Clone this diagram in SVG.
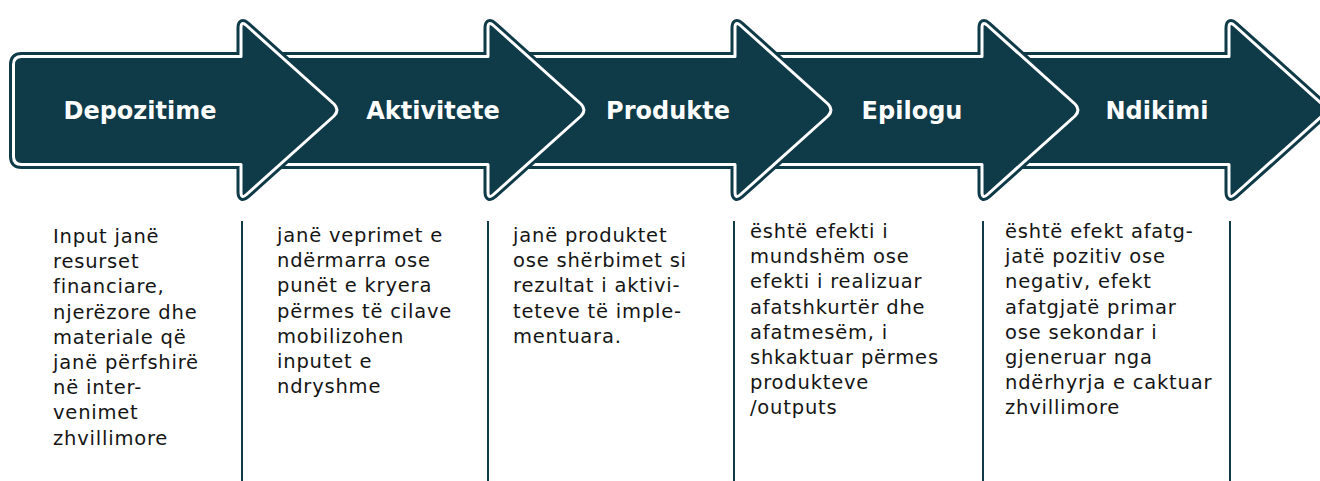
<svg xmlns="http://www.w3.org/2000/svg" xmlns:xlink="http://www.w3.org/1999/xlink" width="1320" height="481" viewBox="0 0 1320 481">
  <style>
    .arrow-edge { fill: #0f3a48; stroke: #0f3a48; stroke-width: 9; stroke-linejoin: round; }
    .arrow-line { fill: #0f3a48; stroke: #ffffff; stroke-width: 3; stroke-linejoin: round; }
    .label { font-family: "DejaVu Sans", sans-serif; font-weight: bold; font-size: 24px; fill: #ffffff; text-anchor: middle; }
    .desc { font-family: "DejaVu Sans", sans-serif; font-size: 19.5px; letter-spacing: 0.8px; fill: #151515; }
    .divider { stroke: #0f3a48; stroke-width: 2; fill: none; }
  </style>
  <defs>
    <!-- one step arrow: body plus head, traced along the white inner line -->
    <path id="arrow-shape" d="M 13.5,64.5 Q 13.5,56.5 21.5,56.5 H 241 V 28 Q 241,20.5 246.5,25.5 L 334,104 Q 340,110 334,116 L 246.5,194.5 Q 241,199.5 241,192 V 164.5 H 21.5 Q 13.5,164.5 13.5,156.5 Z"/>
    <g id="arrow">
      <use xlink:href="#arrow-shape" class="arrow-edge"/>
      <use xlink:href="#arrow-shape" class="arrow-line"/>
    </g>
  </defs>

  <rect width="1320" height="481" fill="#ffffff"/>

  <!-- arrows are stacked so each head overlaps the next body -->
  <g id="node-ndikimi">
    <use xlink:href="#arrow" x="988"/>
    <text class="label" x="1157" y="119">Ndikimi</text>
  </g>
  <g id="node-epilogu">
    <use xlink:href="#arrow" x="741"/>
    <text class="label" x="912" y="119">Epilogu</text>
  </g>
  <g id="node-produkte">
    <use xlink:href="#arrow" x="494"/>
    <text class="label" x="668" y="119">Produkte</text>
  </g>
  <g id="node-aktivitete">
    <use xlink:href="#arrow" x="247"/>
    <text class="label" x="433" y="119">Aktivitete</text>
  </g>
  <g id="node-depozitime">
    <use xlink:href="#arrow"/>
    <text class="label" x="140" y="119">Depozitime</text>
  </g>

  <!-- vertical rules between the description columns -->
  <g id="connectors">
    <line class="divider" x1="242" y1="221" x2="242" y2="481"/>
    <line class="divider" x1="488" y1="221" x2="488" y2="481"/>
    <line class="divider" x1="734" y1="221" x2="734" y2="481"/>
    <line class="divider" x1="983" y1="221" x2="983" y2="481"/>
    <line class="divider" x1="1230" y1="221" x2="1230" y2="481"/>
  </g>

  <!-- descriptions -->
  <g id="desc-depozitime">
    <text class="desc" x="53" y="243">
      <tspan x="53" dy="0">Input janë</tspan>
      <tspan x="53" dy="25.2">resurset</tspan>
      <tspan x="53" dy="25.2">financiare,</tspan>
      <tspan x="53" dy="25.2">njerëzore dhe</tspan>
      <tspan x="53" dy="25.2">materiale që</tspan>
      <tspan x="53" dy="25.2">janë përfshirë</tspan>
      <tspan x="53" dy="25.2">në inter-</tspan>
      <tspan x="53" dy="25.2">venimet</tspan>
      <tspan x="53" dy="25.2">zhvillimore</tspan>
    </text>
  </g>
  <g id="desc-aktivitete">
    <text class="desc" x="277" y="242">
      <tspan x="277" dy="0">janë veprimet e</tspan>
      <tspan x="277" dy="25.2">ndërmarra ose</tspan>
      <tspan x="277" dy="25.2">punët e kryera</tspan>
      <tspan x="277" dy="25.2">përmes të cilave</tspan>
      <tspan x="277" dy="25.2">mobilizohen</tspan>
      <tspan x="277" dy="25.2">inputet e</tspan>
      <tspan x="277" dy="25.2">ndryshme</tspan>
    </text>
  </g>
  <g id="desc-produkte">
    <text class="desc" x="513" y="242">
      <tspan x="513" dy="0">janë produktet</tspan>
      <tspan x="513" dy="25.2">ose shërbimet si</tspan>
      <tspan x="513" dy="25.2">rezultat i aktivi-</tspan>
      <tspan x="513" dy="25.2">teteve të imple-</tspan>
      <tspan x="513" dy="25.2">mentuara.</tspan>
    </text>
  </g>
  <g id="desc-epilogu">
    <text class="desc" x="750" y="238">
      <tspan x="750" dy="0">është efekti i</tspan>
      <tspan x="750" dy="25.2">mundshëm ose</tspan>
      <tspan x="750" dy="25.2">efekti i realizuar</tspan>
      <tspan x="750" dy="25.2">afatshkurtër dhe</tspan>
      <tspan x="750" dy="25.2">afatmesëm, i</tspan>
      <tspan x="750" dy="25.2">shkaktuar përmes</tspan>
      <tspan x="750" dy="25.2">produkteve</tspan>
      <tspan x="750" dy="25.2">/outputs</tspan>
    </text>
  </g>
  <g id="desc-ndikimi">
    <text class="desc" x="1005" y="238">
      <tspan x="1005" dy="0">është efekt afatg-</tspan>
      <tspan x="1005" dy="25.2">jatë pozitiv ose</tspan>
      <tspan x="1005" dy="25.2">negativ, efekt</tspan>
      <tspan x="1005" dy="25.2">afatgjatë primar</tspan>
      <tspan x="1005" dy="25.2">ose sekondar i</tspan>
      <tspan x="1005" dy="25.2">gjeneruar nga</tspan>
      <tspan x="1005" dy="25.2">ndërhyrja e caktuar</tspan>
      <tspan x="1005" dy="25.2">zhvillimore</tspan>
    </text>
  </g>
</svg>
